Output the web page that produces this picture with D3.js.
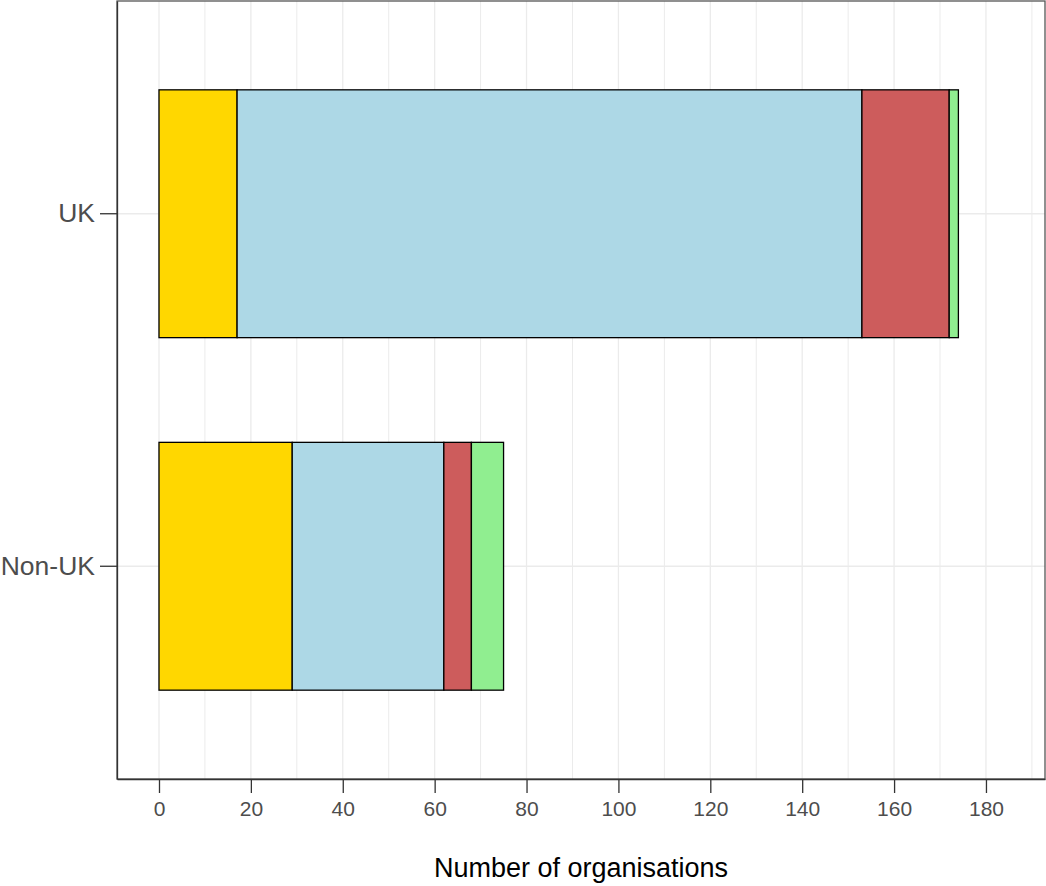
<!DOCTYPE html>
<html>
<head>
<meta charset="utf-8">
<script src="https://cdn.jsdelivr.net/npm/d3@7"></script>
<style>
body{margin:0;background:#fff;}
svg{display:block;font-family:"Liberation Sans",Arial,sans-serif;}
</style>
</head>
<body>
<svg id="chart" width="1046" height="886"></svg>
<script>
const categories = ["UK", "Non-UK"];
const seriesNames = ["s1", "s2", "s3", "s4"];
const seriesColors = ["#FFD700", "#ADD8E6", "#CD5C5C", "#90EE90"];
const values = {
  "UK":     [17, 136, 19, 2],
  "Non-UK": [29, 33, 6, 7]
};
const xTicks = [0, 20, 40, 60, 80, 100, 120, 140, 160, 180];
const xMinor = [10, 30, 50, 70, 90, 110, 130, 150, 170, 190];
const xTitle = "Number of organisations";

const svg = d3.select("#chart");
const L = 117, R = 1045, T = 1, B = 779;

const x = d3.scaleLinear().domain([-9.14, 192.85]).range([L, R]);
const y = d3.scaleBand().domain(categories).range([T, B]).paddingInner(0.297).paddingOuter(0.252);

// gridlines
const g = svg.append("g");
g.selectAll(".minor").data(xMinor).join("line")
  .attr("x1", d => x(d)).attr("x2", d => x(d)).attr("y1", T).attr("y2", B)
  .attr("stroke", "#ebebeb").attr("stroke-width", 1);
g.selectAll(".major").data(xTicks).join("line")
  .attr("x1", d => x(d)).attr("x2", d => x(d)).attr("y1", T).attr("y2", B)
  .attr("stroke", "#ebebeb").attr("stroke-width", 1.3);
g.selectAll(".hmajor").data(categories).join("line")
  .attr("x1", L).attr("x2", R).attr("y1", d => y(d) + y.bandwidth()/2).attr("y2", d => y(d) + y.bandwidth()/2)
  .attr("stroke", "#ebebeb").attr("stroke-width", 1.3);

// stacked bars
const rows = categories.map(c => {
  const o = {cat: c};
  seriesNames.forEach((s, i) => o[s] = values[c][i]);
  return o;
});
const stack = d3.stack().keys(seriesNames)(rows);
svg.append("g").selectAll("g").data(stack).join("g")
  .attr("fill", (d, i) => seriesColors[i])
  .selectAll("rect").data(d => d).join("rect")
  .attr("x", d => x(d[0]))
  .attr("width", d => x(d[1]) - x(d[0]))
  .attr("y", d => y(d.data.cat))
  .attr("height", y.bandwidth())
  .attr("stroke", "#000").attr("stroke-width", 1.3);

// panel border
svg.append("rect").attr("x", L).attr("y", T).attr("width", R - L).attr("height", B - T)
  .attr("fill", "none").attr("stroke", "#555").attr("stroke-width", 1.3);

// x axis
const xAxis = svg.append("g").attr("transform", `translate(0,${B})`)
  .call(d3.axisBottom(x).tickValues(xTicks).tickSize(14).tickSizeOuter(0).tickPadding(8).tickFormat(d3.format("d")));
xAxis.select(".domain").attr("stroke", "#333").attr("stroke-width", 1.3);
xAxis.selectAll(".tick line").attr("stroke", "#333").attr("stroke-width", 1.3);
xAxis.selectAll(".tick text").attr("fill", "#4d4d4d").attr("font-size", 21)
  .attr("font-family", "Liberation Sans, Arial, sans-serif");

// y axis
const yAxis = svg.append("g").attr("transform", `translate(${L},0)`)
  .call(d3.axisLeft(y).tickSize(17).tickSizeOuter(0).tickPadding(5));
yAxis.select(".domain").attr("stroke", "#333").attr("stroke-width", 1.3);
yAxis.selectAll(".tick line").attr("stroke", "#333").attr("stroke-width", 1.3);
yAxis.selectAll(".tick text").attr("fill", "#4d4d4d").attr("font-size", 26.5)
  .attr("font-family", "Liberation Sans, Arial, sans-serif");

// x title
svg.append("text").attr("x", (L + R) / 2).attr("y", 877)
  .attr("text-anchor", "middle").attr("font-size", 27).attr("fill", "#000")
  .text(xTitle);
</script>
</body>
</html>
